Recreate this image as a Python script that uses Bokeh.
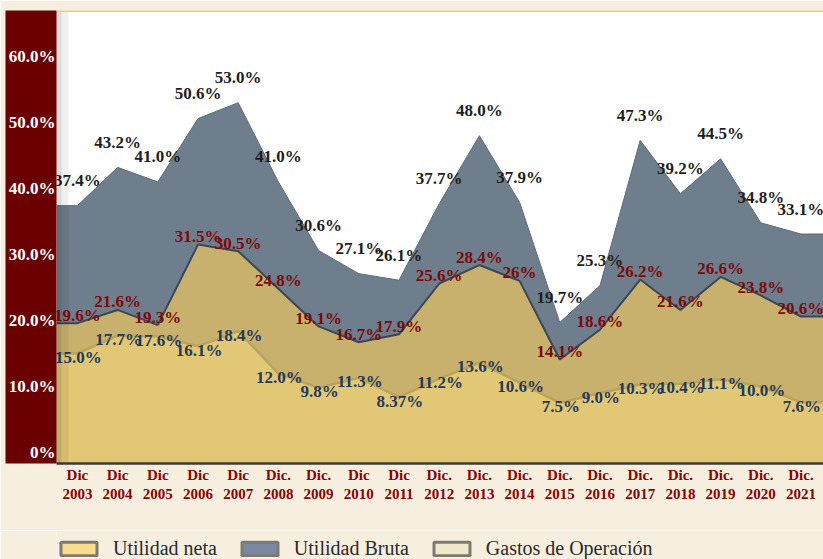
from bokeh.plotting import figure
from bokeh.layouts import column
from bokeh.models import ColumnDataSource, FixedTicker, Span, Legend, LegendItem
from bokeh.core.properties import value
from bokeh.embed import file_html
from bokeh.resources import INLINE

# ---------------- data ----------------
years = [2003, 2004, 2005, 2006, 2007, 2008, 2009, 2010, 2011, 2012,
         2013, 2014, 2015, 2016, 2017, 2018, 2019, 2020, 2021]
month_labels = ["Dic", "Dic", "Dic", "Dic", "Dic", "Dic.", "Dic.", "Dic", "Dic", "Dic.",
                "Dic.", "Dic.", "Dic.", "Dic.", "Dic.", "Dic.", "Dic.", "Dic.", "Dic."]

utilidad_bruta = [37.4, 43.2, 41.0, 50.6, 53.0, 41.0, 30.6, 27.1, 26.1, 37.7,
                  48.0, 37.9, 19.7, 25.3, 47.3, 39.2, 44.5, 34.8, 33.1]
gastos_operacion = [19.6, 21.6, 19.3, 31.5, 30.5, 24.8, 19.1, 16.7, 17.9, 25.6,
                    28.4, 26.0, 14.1, 18.6, 26.2, 21.6, 26.6, 23.8, 20.6]
utilidad_neta = [15.0, 17.7, 17.6, 16.1, 18.4, 12.0, 9.8, 11.3, 8.37, 11.2,
                 13.6, 10.6, 7.5, 9.0, 10.3, 10.4, 11.1, 10.0, 7.6]

bruta_text = ["37.4%", "43.2%", "41.0%", "50.6%", "53.0%", "41.0%", "30.6%", "27.1%", "26.1%", "37.7%",
              "48.0%", "37.9%", "19.7%", "25.3%", "47.3%", "39.2%", "44.5%", "34.8%", "33.1%"]
gastos_text = ["19.6%", "21.6%", "19.3%", "31.5%", "30.5%", "24.8%", "19.1%", "16.7%", "17.9%", "25.6%",
               "28.4%", "26%", "14.1%", "18.6%", "26.2%", "21.6%", "26.6%", "23.8%", "20.6%"]
neta_text = ["15.0%", "17.7%", "17.6%", "16.1%", "18.4%", "12.0%", "9.8%", "11.3%", "8.37%", "11.2%",
             "13.6%", "10.6%", "7.5%", "9.0%", "10.3%", "10.4%", "11.1%", "10.0%", "7.6%"]

y_ticks = [0, 10, 20, 30, 40, 50, 60]
y_tick_labels = ["0%", "10.0%", "20.0%", "30.0%", "40.0%", "50.0%", "60.0%"]

# ---------------- layout ----------------
W = 823
H_MAIN, H_LEG = 530, 29
X_START, X_END = 2002.48, 2021.56
Y_START, Y_END = -1.67, 66.97

SERIF = "Liberation Serif"
PAGE = "#f6efdf"

p = figure(width=W, height=H_MAIN, output_backend="svg", toolbar_location=None,
           x_range=(X_START, X_END), y_range=(Y_START, Y_END),
           min_border_left=56, min_border_right=0, min_border_top=10, min_border_bottom=67)
p.background_fill_color = "#ffffff"
p.border_fill_color = PAGE
p.outline_line_color = None
p.grid.visible = False

def ext(vals):
    return [vals[0]] + list(vals) + [vals[-1]]

xs = [X_START] + years + [X_END]
src = ColumnDataSource(dict(x=xs, bruta=ext(utilidad_bruta), gastos=ext(gastos_operacion),
                            neta=ext(utilidad_neta), base=[Y_START] * len(xs)))

p.varea(x="x", y1="base", y2="bruta", source=src, fill_color="#6f7e8d")
p.line(x="x", y="bruta", source=src, line_color="#5f6b78", line_width=1)
p.varea(x="x", y1="base", y2="gastos", source=src, fill_color="#c8b16c")
p.line(x="x", y="gastos", source=src, line_color="#3b4656", line_width=2)
p.varea(x="x", y1="base", y2="neta", source=src, fill_color="#e2c775")
p.line(x="x", y="neta", source=src, line_color="#bca35c", line_width=2.5)

# soft shadow next to the axis band, and the yellow top rule
p.add_layout(Span(location=X_START, dimension="height", line_color="#000000", line_alpha=0.06, line_width=24))
p.add_layout(Span(location=X_START, dimension="height", line_color="#000000", line_alpha=0.08, line_width=10))
p.add_layout(Span(location=Y_END, dimension="width", line_color="#f7cb52", line_width=3))

lbl = ColumnDataSource(dict(x=years, b=utilidad_bruta, g=gastos_operacion, n=utilidad_neta,
                            bt=bruta_text, gt=gastos_text, nt=neta_text))
common = dict(text_font=value(SERIF), text_font_style="bold", text_font_size="17px",
              text_align="center", text_baseline="middle", source=lbl)
p.text(x="x", y="b", text="bt", text_color="#1e1e1e", x_offset=0, y_offset=-25, **common)
p.text(x="x", y="g", text="gt", text_color="#7b0a0a", x_offset=0, y_offset=-8, **common)
p.text(x="x", y="n", text="nt", text_color="#1f3a5c", x_offset=1, y_offset=4, **common)

# axes
yax = p.yaxis[0]
yax.ticker = FixedTicker(ticks=y_ticks)
yax.major_label_overrides = {t: s for t, s in zip(y_ticks, y_tick_labels)}
yax.major_label_text_color = "#ffffff"
yax.major_label_text_font = SERIF
yax.major_label_text_font_style = "bold"
yax.major_label_text_font_size = "17px"
yax.major_label_standoff = 1
yax.major_tick_out = 0
yax.major_tick_in = 0
yax.minor_tick_out = 0
yax.minor_tick_in = 0
yax.major_tick_line_color = None
yax.minor_tick_line_color = None
yax.axis_line_color = None
yax.background_fill_color = "#6b0000"

xax = p.xaxis[0]
xax.ticker = FixedTicker(ticks=years)
xax.major_label_overrides = {y: f"{m}\n{y}" for y, m in zip(years, month_labels)}
xax.major_label_text_color = "#8b0000"
xax.major_label_text_font = SERIF
xax.major_label_text_font_style = "bold"
xax.major_label_text_font_size = "15px"
xax.major_label_standoff = 3
xax.major_tick_out = 0
xax.major_tick_in = 0
xax.minor_tick_out = 0
xax.minor_tick_in = 0
xax.major_tick_line_color = None
xax.minor_tick_line_color = None
xax.axis_line_color = "#3a3a3a"
xax.axis_line_width = 2.5

# ---------------- legend strip (swatch colours differ from the area colours) ----------------
lg = figure(width=W, height=H_LEG, output_backend="svg", toolbar_location=None,
            x_axis_type=None, y_axis_type=None, x_range=(0, 1), y_range=(0, 1),
            min_border_left=0, min_border_right=0, min_border_top=0, min_border_bottom=0)
lg.background_fill_color = PAGE
lg.border_fill_color = PAGE
lg.outline_line_color = None
lg.grid.visible = False

# hidden copies of the series, used only to draw the legend swatches
swatch = dict(x=years, width=0.8, line_color="#7d7a72", line_width=3, visible=False)
r1 = lg.vbar(top=utilidad_neta, fill_color="#f9dc8c", **swatch)
r2 = lg.vbar(top=utilidad_bruta, fill_color="#7a88a3", **swatch)
r3 = lg.vbar(top=gastos_operacion, fill_color="#efe8cc", **swatch)
legend = Legend(items=[LegendItem(label="Utilidad neta", renderers=[r1]),
                       LegendItem(label="Utilidad Bruta", renderers=[r2]),
                       LegendItem(label="Gastos de Operación", renderers=[r3])],
                orientation="horizontal", location=(0, -1),
                glyph_width=45, glyph_height=17, label_standoff=12, spacing=20,
                padding=0, margin=0, border_line_alpha=0, background_fill_alpha=0,
                inactive_fill_alpha=0,
                label_text_font=SERIF, label_text_font_size="20px", label_text_color="#2a2a2a")
lg.add_layout(legend)

layout = column(p, lg, spacing=0)
open("out.html", "w").write(file_html(layout, INLINE))
